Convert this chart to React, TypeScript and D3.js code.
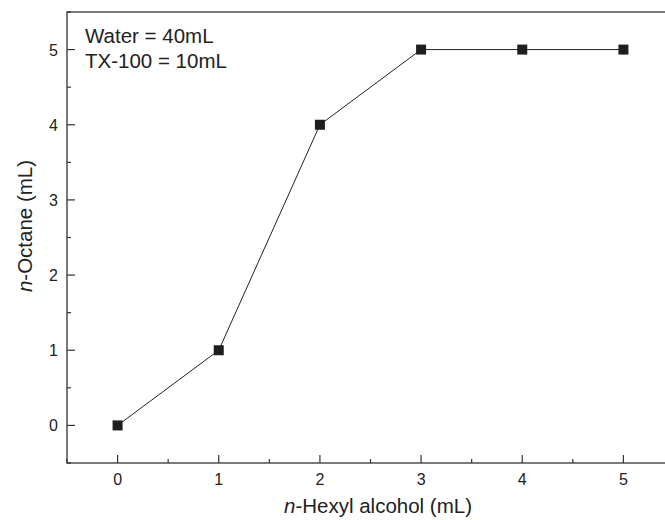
import React, { useEffect, useRef } from 'react';
import * as d3 from 'd3';

const hexylAlcohol = [0, 1, 2, 3, 4, 5];
const octane = [0, 1, 4, 5, 5, 5];
const xTicks = [0, 1, 2, 3, 4, 5];
const yTicks = [0, 1, 2, 3, 4, 5];
const notes = ['Water = 40mL', 'TX-100 = 10mL'];

const W = 665;
const H = 520;

const App = () => {
  const svgRef = useRef<SVGSVGElement | null>(null);

  useEffect(() => {
    if (!svgRef.current) return;
    const svg = d3.select(svgRef.current);
    svg.selectAll('*').remove();

    const margin = { top: 12, left: 67, bottom: 57 };
    const plotH = H - margin.top - margin.bottom;
    const plotW = 607;

    const x = d3.scaleLinear().domain([-0.5, 5.5]).range([margin.left, margin.left + plotW]);
    const y = d3.scaleLinear().domain([-0.5, 5.5]).range([margin.top + plotH, margin.top]);

    const font = 'Liberation Sans, Arial, sans-serif';
    const ink = '#222';

    // frame
    svg.append('rect')
      .attr('x', x(-0.5))
      .attr('y', y(5.5))
      .attr('width', x(5.5) - x(-0.5))
      .attr('height', y(-0.5) - y(5.5))
      .attr('fill', 'none')
      .attr('stroke', '#333')
      .attr('stroke-width', 1.3);

    // x ticks (inward)
    const xMinor = d3.range(-0.5, 5.51, 0.5).filter(v => !xTicks.includes(v));
    const xAxis = svg.append('g');
    xTicks.forEach(t => {
      xAxis.append('line')
        .attr('x1', x(t)).attr('x2', x(t))
        .attr('y1', y(-0.5)).attr('y2', y(-0.5) - 8)
        .attr('stroke', '#333').attr('stroke-width', 1.2);
      xAxis.append('text')
        .attr('x', x(t)).attr('y', y(-0.5) + 22)
        .attr('text-anchor', 'middle')
        .attr('font-family', font).attr('font-size', 16)
        .attr('fill', ink)
        .text(String(t));
    });
    xMinor.forEach(t => {
      xAxis.append('line')
        .attr('x1', x(t)).attr('x2', x(t))
        .attr('y1', y(-0.5)).attr('y2', y(-0.5) - 4)
        .attr('stroke', '#333').attr('stroke-width', 1.2);
    });

    // y ticks (inward)
    const yMinor = d3.range(-0.5, 5.51, 0.5).filter(v => !yTicks.includes(v));
    const yAxis = svg.append('g');
    yTicks.forEach(t => {
      yAxis.append('line')
        .attr('x1', x(-0.5)).attr('x2', x(-0.5) + 8)
        .attr('y1', y(t)).attr('y2', y(t))
        .attr('stroke', '#333').attr('stroke-width', 1.2);
      yAxis.append('text')
        .attr('x', x(-0.5) - 9).attr('y', y(t) + 6)
        .attr('text-anchor', 'end')
        .attr('font-family', font).attr('font-size', 16)
        .attr('fill', ink)
        .text(String(t));
    });
    yMinor.forEach(t => {
      yAxis.append('line')
        .attr('x1', x(-0.5)).attr('x2', x(-0.5) + 4)
        .attr('y1', y(t)).attr('y2', y(t))
        .attr('stroke', '#333').attr('stroke-width', 1.2);
    });

    // data line
    const pts = hexylAlcohol.map((v, i) => [v, octane[i]] as [number, number]);
    const line = d3.line<[number, number]>()
      .x(d => x(d[0]))
      .y(d => y(d[1]));
    svg.append('path')
      .datum(pts)
      .attr('fill', 'none')
      .attr('stroke', ink)
      .attr('stroke-width', 1)
      .attr('d', line);

    // markers
    svg.selectAll('.pt')
      .data(pts)
      .enter()
      .append('rect')
      .attr('class', 'pt')
      .attr('x', d => x(d[0]) - 5)
      .attr('y', d => y(d[1]) - 5)
      .attr('width', 10)
      .attr('height', 10)
      .attr('fill', '#1e1e1e');

    // notes
    notes.forEach((n, i) => {
      svg.append('text')
        .attr('x', 85)
        .attr('y', 43 + i * 25)
        .attr('font-family', font).attr('font-size', 20.5)
        .attr('fill', ink)
        .text(n);
    });

    // axis titles
    const xt = svg.append('text')
      .attr('x', 378).attr('y', 513)
      .attr('text-anchor', 'middle')
      .attr('font-family', font).attr('font-size', 20.5)
      .attr('fill', ink);
    xt.append('tspan').attr('font-style', 'italic').text('n');
    xt.append('tspan').text('-Hexyl alcohol (mL)');

    const yt = svg.append('text')
      .attr('transform', `translate(32,226) rotate(-90)`)
      .attr('text-anchor', 'middle')
      .attr('font-family', font).attr('font-size', 20.5)
      .attr('fill', ink);
    yt.append('tspan').attr('font-style', 'italic').text('n');
    yt.append('tspan').text('-Octane (mL)');
  }, []);

  return (
    <svg
      ref={svgRef}
      width={W}
      height={H}
      style={{ position: 'absolute', left: 0, top: 0, background: '#fff' }}
    />
  );
};

export default App;
